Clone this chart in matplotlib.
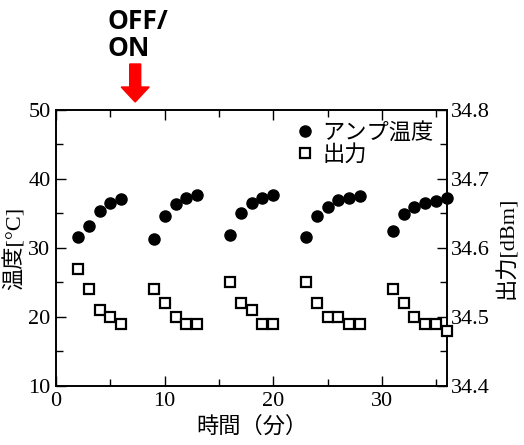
import matplotlib.pyplot as plt
from matplotlib.patches import FancyArrow
from matplotlib.ticker import MultipleLocator

# 時間（分）
t_temp = [2, 3, 4, 5, 6, 9, 10, 11, 12, 13, 16, 17, 18, 19, 20,
          23, 24, 25, 26, 27, 28, 31, 32, 33, 34, 35, 36]
# アンプ温度 [°C]
temp = [31.6, 33.2, 35.3, 36.5, 37.1,
        31.3, 34.6, 36.3, 37.3, 37.7,
        31.9, 35.0, 36.5, 37.3, 37.7,
        31.6, 34.6, 36.0, 36.9, 37.2, 37.5,
        32.5, 34.9, 36.0, 36.5, 36.8, 37.2]
# 出力 [dBm]
t_out = t_temp
power = [34.57, 34.54, 34.51, 34.50, 34.49,
         34.54, 34.52, 34.50, 34.49, 34.49,
         34.55, 34.52, 34.51, 34.49, 34.49,
         34.55, 34.52, 34.50, 34.50, 34.49, 34.49,
         34.54, 34.52, 34.50, 34.49, 34.49, 34.48]

jp = ['Liberation Serif', 'Noto Sans CJK JP']
plt.rcParams['font.family'] = jp

fig = plt.figure(figsize=(5.24, 4.45), dpi=100)
ax = fig.add_axes([0.107, 0.1326, 0.746, 0.6204])
ax2 = ax.twinx()

l1, = ax.plot(t_temp, temp, 'o', color='black', markersize=8,
              label='アンプ温度', clip_on=False, zorder=5)
l2, = ax2.plot(t_out, power, 's', mfc='white', mec='black', mew=1.6,
               markersize=6.5, label='出力', clip_on=False, zorder=5)

ax.set_xlim(0, 36)
ax.set_ylim(10, 50)
ax2.set_ylim(34.4, 34.8)

ax.xaxis.set_major_locator(MultipleLocator(10))
ax.xaxis.set_minor_locator(MultipleLocator(5))
ax.yaxis.set_major_locator(MultipleLocator(10))
ax.yaxis.set_minor_locator(MultipleLocator(5))
ax2.yaxis.set_major_locator(MultipleLocator(0.1))
ax2.yaxis.set_minor_locator(MultipleLocator(0.05))

ax.tick_params(which='both', direction='in', top=True, right=False, labelsize=16, pad=4)
ax.tick_params(which='major', length=7, width=1)
ax.tick_params(which='minor', length=5, width=1)
ax2.tick_params(which='both', direction='in', labelsize=16, pad=3)
ax2.tick_params(which='major', length=7, width=1)
ax2.tick_params(which='minor', length=5, width=1)
for a in (ax, ax2):
    for s in a.spines.values():
        s.set_linewidth(1.2)

ax.set_xlabel('時間（分）', fontsize=16, labelpad=4)
ax.set_ylabel('温度[°C]', fontsize=16, labelpad=2)
ax2.set_ylabel('出力[dBm]', fontsize=16, labelpad=4)

ax.legend(handles=[l1, l2], loc='upper right', frameon=False, fontsize=16,
          handletextpad=0.2, borderaxespad=0.2, labelspacing=0.05,
          handlelength=1.2)

fig.text(0.206, 0.982, 'OFF/\nON', fontsize=19, fontweight='bold',
         family='Open Sans', va='top', ha='left', linespacing=1.0)
fig.patches.append(FancyArrow(0.258, 1 - 64 / 445, 0, -38 / 445,
                              width=11 / 524, head_width=28 / 524,
                              head_length=15 / 445, length_includes_head=True,
                              color='red', transform=fig.transFigure))

fig.savefig('out.png', dpi=100)
